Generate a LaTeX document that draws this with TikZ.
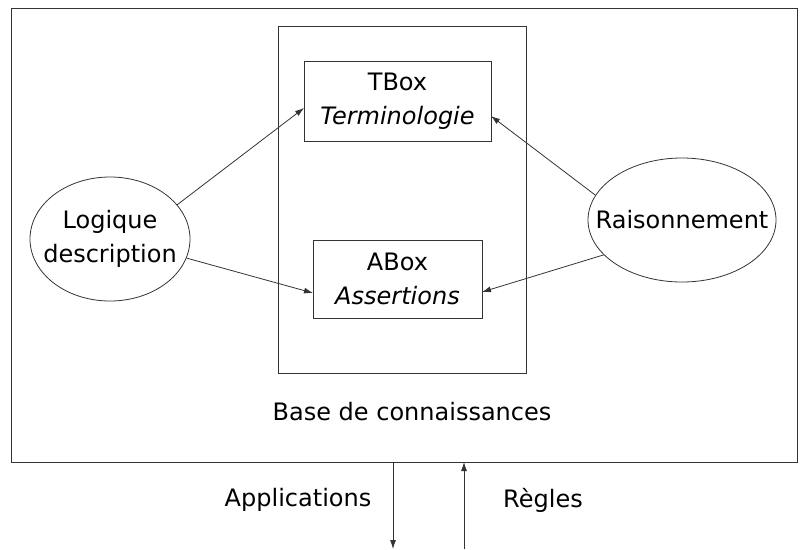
\documentclass[tikz,border=0pt]{standalone}
\usepackage{fontspec}
\setmainfont{DejaVu Sans}
\usetikzlibrary{shapes.geometric,arrows.meta}
\begin{document}
\begin{tikzpicture}[x=1pt,y=-1pt,
  font=\fontsize{24}{34}\selectfont,
  lw/.style={line width=0.8pt, draw=black!80},
  arr/.style={lw, -{Latex[length=9pt,width=6pt]}},
  ell/.style={lw, ellipse, inner sep=0pt},
  inlbl/.style={label={[align=center]center:#1}},
  boxn/.style={lw, rectangle, inner sep=0pt, align=center}]
\useasboundingbox (0,0) rectangle (800,549);
\node[lw, draw, rectangle, minimum width=786pt, minimum height=454pt, inner sep=0pt] (outer) at (404,235) {};
\node[lw, draw, rectangle, minimum width=248pt, minimum height=347pt, inner sep=0pt] (kb) at (402,199.5) {};
\node[boxn, minimum width=187pt, minimum height=80pt] (tbox) at (397.5,101) {TBox\\\textit{Terminologie}};
\node[boxn, minimum width=169pt, minimum height=78pt] (abox) at (397.5,279) {ABox\\\textit{Assertions}};
\node[ell, minimum width=160pt, minimum height=124pt, inlbl={Logique\\description}] (logic) at (110,239) {};
\node[ell, minimum width=188pt, minimum height=124pt, inlbl={Raisonnement}] (reason) at (682,220) {};
\node (base) at (412,412) {Base de connaissances};
\node (appl) at (298,500) {Applications};
\node (regl) at (543,500) {Règles};
\coordinate (tl) at (304,108);
\coordinate (al) at (313,293);
\coordinate (tr) at (491,116);
\coordinate (ar) at (482,292);
\coordinate (dtop) at (393,462);
\coordinate (dbot) at (393,549);
\coordinate (utop) at (464,462);
\coordinate (ubot) at (464,549);
\draw[arr] (logic.27) -- (tl);
\draw[arr] (logic.-14) -- (al);
\draw[arr] (reason.164) -- (tr);
\draw[arr] (reason.204) -- (ar);
\draw[arr] (dtop) -- (dbot);
\draw[arr] (ubot) -- (utop);
\end{tikzpicture}
\end{document}
